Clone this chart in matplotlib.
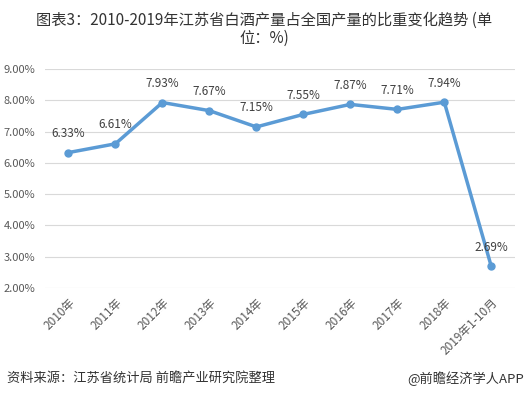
import matplotlib
matplotlib.use('Agg')
import matplotlib.pyplot as plt
from matplotlib.ticker import FuncFormatter

plt.rcParams['font.family'] = ['Noto Sans CJK SC', 'DejaVu Sans']

# Data
years = ['2010年', '2011年', '2012年', '2013年', '2014年', '2015年',
         '2016年', '2017年', '2018年', '2019年1-10月']
share = [6.33, 6.61, 7.93, 7.67, 7.15, 7.55, 7.87, 7.71, 7.94, 2.69]

LINE_COLOR = '#5B9BD5'
TEXT_COLOR = '#595959'

fig = plt.figure(figsize=(5.28, 3.99), dpi=100)
ax = fig.add_axes([0.085, 0.278, 0.89, 0.549])

x = range(len(years))
ax.plot(x, share, color=LINE_COLOR, lw=2.5, marker='o', ms=5, zorder=3)
for xi, v in zip(x, share):
    ax.annotate('%.2f%%' % v, (xi, v), xytext=(0, 9), textcoords='offset points',
                ha='center', va='bottom', fontsize=8.5, color='#404040')

ax.set_xlim(-0.5, len(years) - 0.5)
ax.set_ylim(2, 9)
ax.set_yticks(range(2, 10))
ax.yaxis.set_major_formatter(FuncFormatter(lambda v, p: '%.2f%%' % v))
ax.set_xticks(list(x))
ax.set_xticklabels(years, rotation=45, ha='right', rotation_mode='anchor')
ax.tick_params(axis='x', length=0, labelsize=8.5, labelcolor=TEXT_COLOR, pad=6)
ax.tick_params(axis='y', length=0, labelsize=8, labelcolor=TEXT_COLOR, pad=7)
ax.grid(axis='y', color='#D9D9D9', lw=0.8)
ax.set_axisbelow(True)
for s in ax.spines.values():
    s.set_visible(False)

fig.text(0.5, 0.948, '图表3：2010-2019年江苏省白酒产量占全国产量的比重变化趋势 (单',
         ha='center', va='center', fontsize=11, color='#333333')
fig.text(0.5, 0.903, '位：%)', ha='center', va='center', fontsize=11, color='#333333')

fig.text(0.014, 0.052, '资料来源：江苏省统计局 前瞻产业研究院整理', ha='left', va='center',
         fontsize=9.5, color='#333333')
fig.text(0.993, 0.052, '@前瞻经济学人APP', ha='right', va='center',
         fontsize=9.5, color='#333333')

fig.savefig('out.png', dpi=100)
